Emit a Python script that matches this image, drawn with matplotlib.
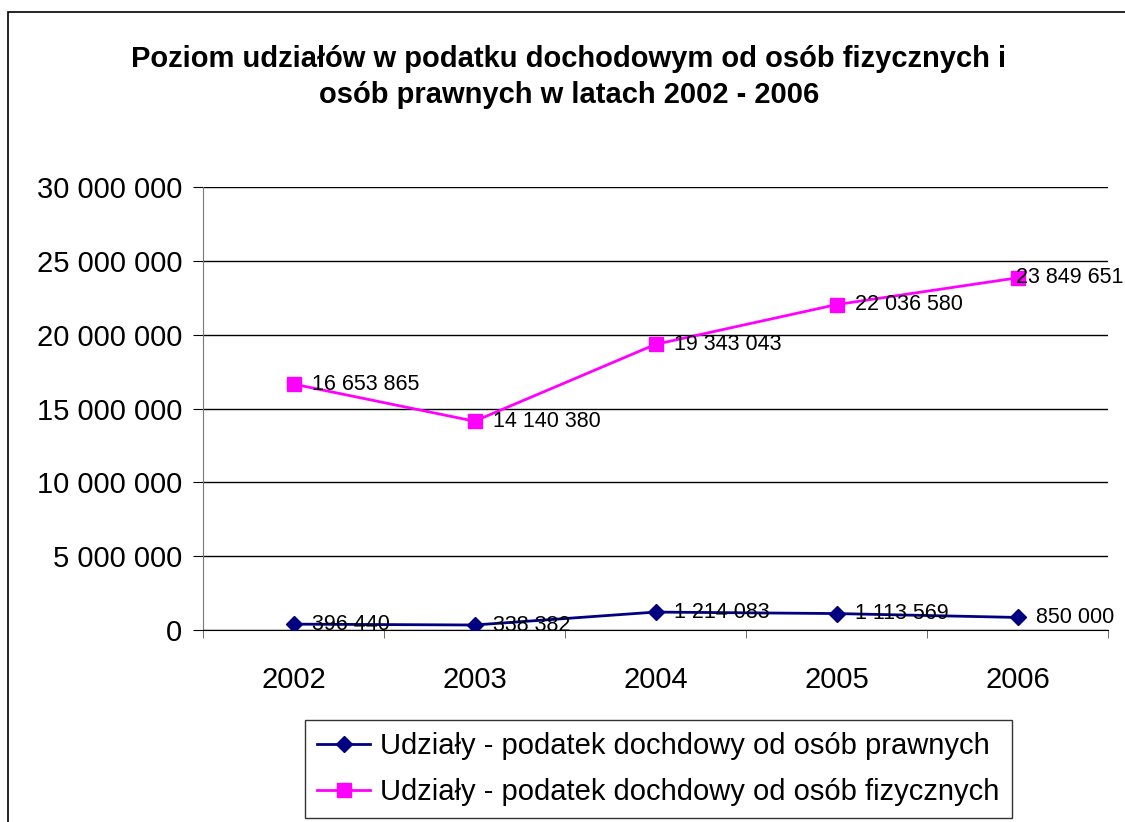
import matplotlib.pyplot as plt
from matplotlib.patches import Rectangle

plt.rcParams['font.family'] = ['Liberation Sans', 'DejaVu Sans']

years = ['2002', '2003', '2004', '2005', '2006']
prawne = [396440, 338382, 1214083, 1113569, 850000]
fizyczne = [16653865, 14140380, 19343043, 22036580, 23849651]
yticks = [0, 5000000, 10000000, 15000000, 20000000, 25000000, 30000000]


def fmt(v):
    return '{:,}'.format(v).replace(',', ' ')


fig = plt.figure(figsize=(11.25, 8.22), dpi=100)
ax = fig.add_axes([203 / 1125, 1 - 630 / 822, 905 / 1125, 443 / 822])

# outer frame of the chart
fig.patches.append(Rectangle((8 / 1125, -0.1), 1.2, 1 - 12 / 822 + 0.1,
                             transform=fig.transFigure, fill=False,
                             edgecolor='black', linewidth=1.2))

x = list(range(len(years)))
ax.plot(x, prawne, color='#000080', marker='D', markersize=8, linewidth=2,
        label='Udziały - podatek dochdowy od osób prawnych', zorder=3)
ax.plot(x, fizyczne, color='#FF00FF', marker='s', markersize=10, linewidth=2,
        label='Udziały - podatek dochdowy od osób fizycznych', zorder=3)

for i in x:
    ax.annotate(fmt(prawne[i]), (i, prawne[i]), xytext=(13, 0),
                textcoords='offset points', va='center', fontsize=15.5, zorder=4)
    # last label is pushed left by Excel so it fits inside the chart
    dx = 13 if i < len(x) - 1 else -1
    ax.annotate(fmt(fizyczne[i]), (i, fizyczne[i]), xytext=(dx, 0),
                textcoords='offset points', va='center', fontsize=15.5, zorder=4)

ax.set_xlim(-0.5, 4.5)
ax.set_ylim(0, 30000000)
ax.set_yticks(yticks)
ax.set_yticklabels([fmt(v) for v in yticks], fontsize=21)
ax.set_xticks(x)
ax.set_xticklabels(years, fontsize=21)
ax.set_xticks([-0.5, 0.5, 1.5, 2.5, 3.5, 4.5], minor=True)
ax.tick_params(axis='x', which='major', length=0, pad=26)
ax.tick_params(axis='x', which='minor', length=6, color='#555555')
ax.tick_params(axis='y', length=7, pad=8)

ax.grid(axis='y', color='black', linewidth=1)
ax.set_axisbelow(True)
for s in ['top', 'right']:
    ax.spines[s].set_visible(False)
ax.spines['left'].set_color('#777777')
ax.spines['bottom'].set_color('black')

fig.text(569 / 1125, 1 - 77 / 822,
         'Poziom udziałów w podatku dochodowym od osób fizycznych i\nosób prawnych w latach 2002 - 2006',
         ha='center', va='center', fontsize=21, fontweight='bold', linespacing=1.35)

leg = ax.legend(loc='upper left', bbox_to_anchor=(305 / 1125, 1 - 720 / 822),
                bbox_transform=fig.transFigure, fontsize=21, frameon=True,
                fancybox=False, handlelength=1.8, borderpad=0.42,
                labelspacing=0.6, handletextpad=0.35, borderaxespad=0)
leg.get_frame().set_edgecolor('black')
leg.get_frame().set_linewidth(1)

fig.savefig('out.png', dpi=100)
